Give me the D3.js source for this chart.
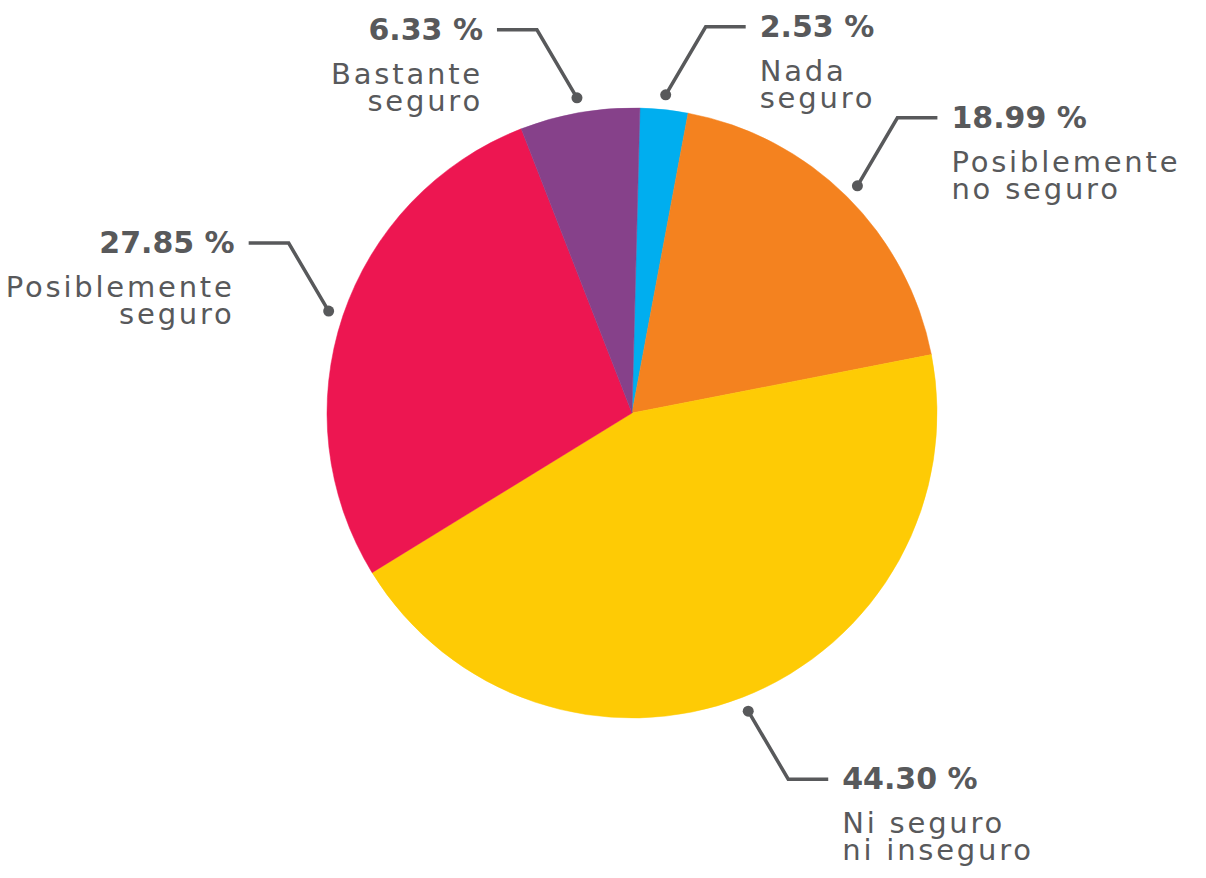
<!DOCTYPE html>
<html>
<head>
<meta charset="utf-8">
<script src="https://cdn.jsdelivr.net/npm/d3@7"></script>
<style>
  html, body { margin: 0; padding: 0; background: #ffffff; }
  svg { display: block; }
</style>
</head>
<body>
<svg id="chart" width="1206" height="878"></svg>
<script>
// ---- data ----
const categories = ["Nada seguro", "Posiblemente no seguro", "Ni seguro ni inseguro", "Posiblemente seguro", "Bastante seguro"];
const labelLines = [["Nada", "seguro"], ["Posiblemente", "no seguro"], ["Ni seguro", "ni inseguro"], ["Posiblemente", "seguro"], ["Bastante", "seguro"]];
const values = [2.53, 18.99, 44.30, 27.85, 6.33];
const colors = ["#00aeef", "#f4821f", "#fecb05", "#ed1651", "#86418a"];

// ---- layout ----
const cx = 632, cy = 413, R = 305;
const rDot = 320;
const textColor = "#58595b";
const offset = 0.026;

const svg = d3.select("#chart");
const g = svg.append("g").attr("transform", `translate(${cx},${cy})`);

const rows = categories.map((c, i) => ({ cat: c, value: values[i], lines: labelLines[i], color: colors[i] }));

const pie = d3.pie().sort(null).value(d => d.value)
  .startAngle(offset).endAngle(offset + 2 * Math.PI);
const arcs = pie(rows);
const arc = d3.arc().innerRadius(0).outerRadius(R);

g.selectAll("path.slice").data(arcs).join("path")
  .attr("class", "slice")
  .attr("d", arc)
  .attr("fill", d => d.data.color)
  .attr("stroke", d => d.data.color)
  .attr("stroke-width", 0.5);

const fmt = d3.format(".2f");

arcs.forEach(a => {
  const mid = (a.startAngle + a.endAngle) / 2;
  const px = Math.sin(mid) * rDot, py = -Math.cos(mid) * rDot;
  const sx = Math.sin(mid) >= 0 ? 1 : -1;
  const sy = -Math.cos(mid) >= 0 ? 1 : -1;
  const ex = px + sx * 40, ey = py + sy * 68;
  const hx = ex + sx * 40;
  g.append("polyline")
    .attr("points", `${px},${py} ${ex},${ey} ${hx},${ey}`)
    .attr("fill", "none")
    .attr("stroke", textColor)
    .attr("stroke-width", 3.5)
    .attr("stroke-linejoin", "miter");
  g.append("circle").attr("cx", px).attr("cy", py).attr("r", 5.5).attr("fill", textColor);

  const tx = hx + sx * 14;
  const anchor = sx > 0 ? "start" : "end";
  g.append("text")
    .attr("x", tx).attr("y", ey + 10)
    .attr("text-anchor", anchor)
    .attr("font-family", "'DejaVu Sans', sans-serif")
    .attr("font-weight", "bold")
    .attr("font-size", 30)
    .attr("fill", textColor)
    .text(fmt(a.data.value) + " %");
  const t = g.append("text")
    .attr("x", tx).attr("y", ey + 10 + 44)
    .attr("text-anchor", anchor)
    .attr("font-family", "'DejaVu Sans', sans-serif")
    .attr("font-size", 29)
    .attr("letter-spacing", 2.8)
    .attr("fill", textColor);
  a.data.lines.forEach((ln, j) => {
    t.append("tspan").attr("x", tx).attr("dy", j === 0 ? 0 : 27).text(ln);
  });
});
</script>
</body>
</html>
